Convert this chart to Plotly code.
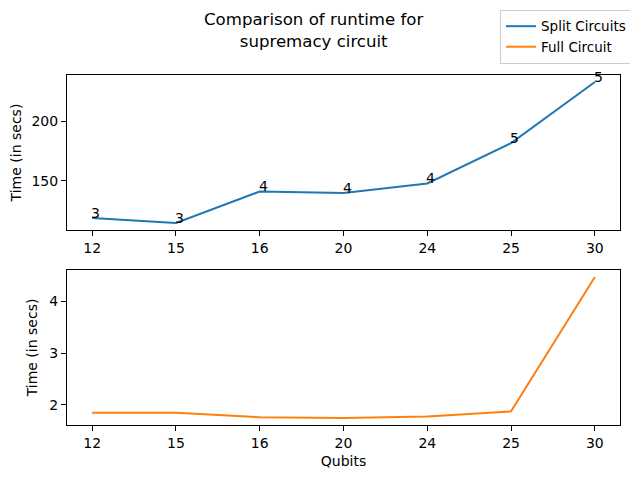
import plotly.graph_objects as go
from plotly.subplots import make_subplots

# Data
qubits = ['12', '15', '16', '20', '24', '25', '30']
split_times = [118.8, 114.6, 141.1, 139.7, 147.8, 181.6, 232.9]
split_counts = [3, 3, 4, 4, 4, 5, 5]
full_times = [1.852, 1.850, 1.762, 1.750, 1.780, 1.877, 4.467]

blue = '#1f77b4'
orange = '#ff7f0e'
font_family = 'DejaVu Sans'

fig = make_subplots(rows=2, cols=1, vertical_spacing=0.114)

fig.add_trace(
    go.Scatter(x=qubits, y=split_times, mode='lines', name='Split Circuits',
               line=dict(color=blue, width=2)),
    row=1, col=1
)
fig.add_trace(
    go.Scatter(x=qubits, y=full_times, mode='lines', name='Full Circuit',
               line=dict(color=orange, width=2)),
    row=2, col=1
)

# Number of sub-circuits written next to each point
# (category axis: annotations take the category index)
for i, (t, n) in enumerate(zip(split_times, split_counts)):
    fig.add_annotation(x=i, y=t, text=str(n), showarrow=False,
                       xanchor='left', yanchor='bottom', xshift=-3, yshift=-5,
                       font=dict(size=14, color='black', family=font_family),
                       row=1, col=1)

# Figure title (two lines, centred on the figure)
fig.add_annotation(text='Comparison of runtime for<br>supremacy circuit',
                   xref='paper', yref='paper', x=0.446, y=1.126,
                   xanchor='center', yanchor='middle', showarrow=False,
                   font=dict(size=16.6, color='black', family=font_family))

axis_style = dict(showline=True, linecolor='black', linewidth=1, mirror=True,
                  ticks='outside', ticklen=5, tickcolor='black', showgrid=False,
                  zeroline=False, tickfont=dict(size=14, color='black'))

fig.update_xaxes(type='category', range=[-0.3, 6.3], **axis_style)
fig.update_yaxes(**axis_style)

fig.update_yaxes(range=[108.7, 238.8], tickvals=[150, 200],
                 title=dict(text='Time (in secs)', standoff=8, font=dict(size=14)),
                 row=1, col=1)
fig.update_yaxes(range=[1.614, 4.603], tickvals=[2, 3, 4],
                 title=dict(text='Time (in secs)', standoff=8, font=dict(size=14)),
                 row=2, col=1)
fig.update_xaxes(title=dict(text='Qubits', standoff=6, font=dict(size=14)),
                 row=2, col=1)

# the page adds an 8px body margin, so the figure is sized to fit inside it
fig.update_layout(
    width=622, height=462,
    margin=dict(l=59, r=10, t=67, b=45, autoexpand=False),
    paper_bgcolor='white', plot_bgcolor='white',
    font=dict(family=font_family, size=14, color='black'),
    showlegend=True,
    legend=dict(x=1.0217, y=1.186, xanchor='right', yanchor='top',
                bordercolor='#cccccc', borderwidth=1,
                font=dict(size=13.5)),
)

fig.write_html("out.html")
